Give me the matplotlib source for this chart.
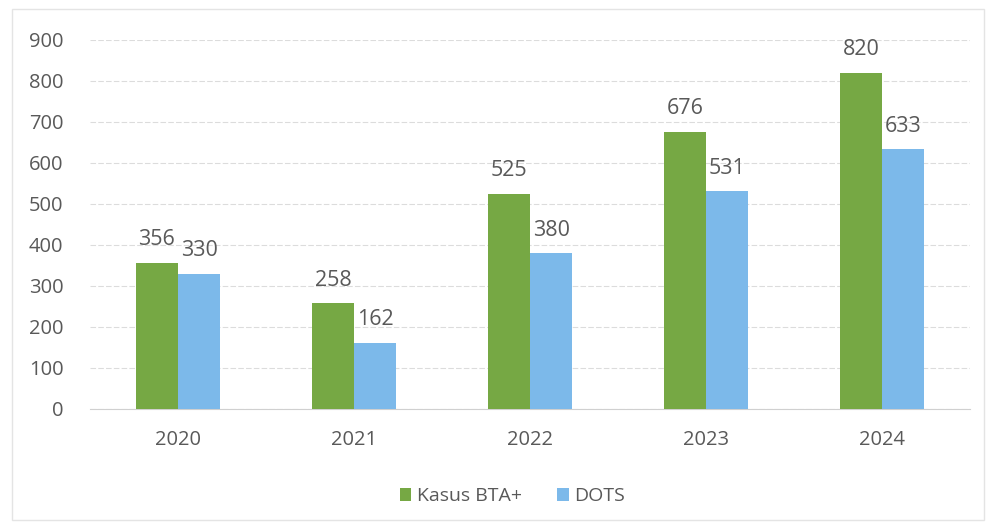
import matplotlib as mpl
import matplotlib.pyplot as plt
import numpy as np

years = ["2020", "2021", "2022", "2023", "2024"]
kasus_bta = [356, 258, 525, 676, 820]
dots = [330, 162, 380, 531, 633]
y_ticks = [0, 100, 200, 300, 400, 500, 600, 700, 800, 900]

plt.rcParams["font.family"] = ["Open Sans", "DejaVu Sans"]
text_c = "#595959"
green = "#76a844"
blue = "#7cb9ea"

fig = plt.figure(figsize=(9.94, 5.25), dpi=100)
ax = fig.add_axes([0.0905, 0.221, 0.8855, 0.703])

# faint frame around the chart
fig.patches.append(
    mpl.patches.Rectangle(
        (0.012, 0.01), 0.978, 0.972, transform=fig.transFigure,
        fill=False, edgecolor="#e4e4e4", linewidth=1.0,
    )
)

x = np.arange(len(years))
w = 0.24

b1 = ax.bar(x - w / 2, kasus_bta, w, color=green, label="Kasus BTA+", zorder=3)
b2 = ax.bar(x + w / 2, dots, w, color=blue, label="DOTS", zorder=3)

for bars in (b1, b2):
    for rect in bars:
        ax.annotate(
            f"{int(rect.get_height())}",
            (rect.get_x() + rect.get_width() / 2, rect.get_height()),
            xytext=(0, 9), textcoords="offset points",
            ha="center", va="bottom", fontsize=15.5, color=text_c,
        )

ax.set_xlim(-0.5, 4.5)
ax.set_ylim(0, 900)
ax.set_xticks(x)
ax.set_xticklabels(years, fontsize=14.5, color=text_c)
ax.set_yticks(y_ticks)
ax.set_yticklabels([str(v) for v in y_ticks], fontsize=14.5, color=text_c)
ax.tick_params(length=0)
ax.tick_params(axis="y", pad=19)
ax.tick_params(axis="x", pad=15)

ax.grid(axis="y", color="#dcdcdc", linewidth=0.8, linestyle=(0, (5, 2)), zorder=0)
for s in ["top", "right", "left"]:
    ax.spines[s].set_visible(False)
ax.spines["bottom"].set_color("#d0d0d0")

ax.legend(
    loc="upper center", bbox_to_anchor=(0.48, -0.165), ncol=2, frameon=False,
    fontsize=14, labelcolor=text_c, handlelength=0.6, handleheight=0.6,
    handletextpad=0.3, columnspacing=1.8,
)

fig.savefig("out.png", dpi=100)
